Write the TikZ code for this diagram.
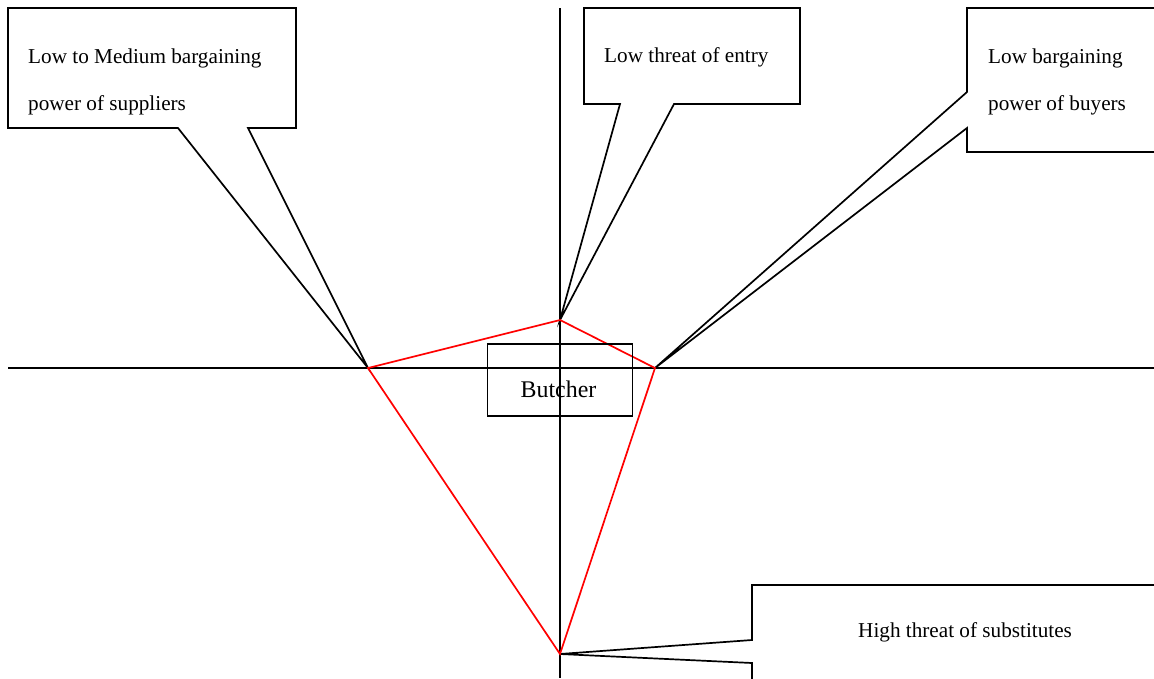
\documentclass[tikz,border=0pt]{standalone}
\usepackage{fontspec}
\setmainfont{Liberation Serif}
\begin{document}
\begin{tikzpicture}[x=1pt,y=-1pt,
  callout/.style={draw=black,line width=1.7pt,line join=miter,fill=white},
  axis/.style={draw=black,line width=1.5pt},
  profile/.style={draw=red,line width=1.7pt,line join=miter},
  label/.style={inner sep=0pt,anchor=base west,font=\fontsize{21.2}{47}\selectfont,align=left},
  centre/.style={draw=black,line width=1.7pt,minimum width=145pt,minimum height=72pt,inner sep=0pt}]
\useasboundingbox (0,0) rectangle (1154,678);

% points of the force profile
\coordinate (sup) at (368,368);
\coordinate (ent) at (560,320);
\coordinate (buy) at (655,368);
\coordinate (sub) at (560,654);

% axes
\draw[axis] (8,368) -- (1154,368);
\draw[axis] (560,8) -- (560,678);

% callouts
\draw[callout] (8,8) -- (296,8) -- (296,128) -- (248,128) -- (sup) -- (178,128) -- (8,128) -- cycle;
\draw[callout] (584,8) -- (800,8) -- (800,104) -- (674,104) -- (ent) -- (620,104) -- (584,104) -- cycle;
\draw[callout] (1160,8) -- (967,8) -- (967,92) -- (buy) -- (967,128) -- (967,152) -- (1160,152);
\draw[callout] (1160,585) -- (752,585) -- (752,640) -- (sub) -- (752,663) -- (752,682);

% redraw axis parts covered by callout fills
\draw[axis] (560,104) -- (560,368);

% force profile
\draw[profile] (sup) -- (ent) -- (buy) -- (sub) -- cycle;

% centre box
\node[centre] (firm) at (560,380) {};
\node[inner sep=0pt,anchor=base,font=\fontsize{23.9}{28}\selectfont] (firmtext) at (558.5,397) {Butcher};

% callout texts (anchored on the baseline of the last line)
\node[label] (tsup) at (28,110) {Low to Medium bargaining\\power of suppliers};
\node[label] (tent) at (604,62) {Low threat of entry};
\node[label] (tbuy) at (988,110) {Low bargaining\\power of buyers};
\node[label] (tsub) at (858,637) {High threat of substitutes};
\end{tikzpicture}
\end{document}
